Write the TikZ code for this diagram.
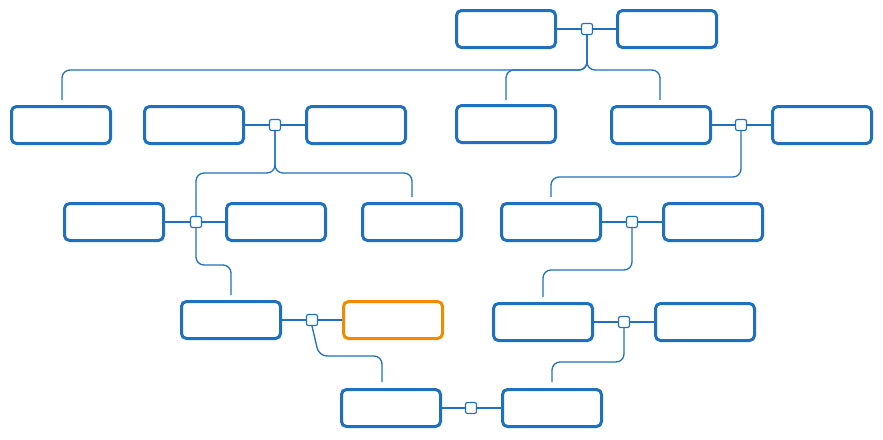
\documentclass[tikz,border=0pt]{standalone}
\begin{document}
\definecolor{bl}{HTML}{1F70BF}
\definecolor{og}{HTML}{F08C00}
\begin{tikzpicture}[x=1pt,y=-1pt,
 box/.style={draw=bl,line width=3pt,rounded corners=5pt,minimum width=99pt,minimum height=37pt,inner sep=0pt,fill=white},
 sq/.style={draw=bl,line width=1.2pt,rounded corners=2pt,minimum size=11pt,inner sep=0pt,fill=white},
 link/.style={draw=bl,line width=1.3pt,rounded corners=8pt},
 tie/.style={draw=bl,line width=1.3pt}]
\useasboundingbox (0,0) rectangle (883,439);
% nodes
\node[box] (a1) at (506,29) {}; \node[box] (a2) at (667,29) {};
\node[box] (b1) at (61,125) {}; \node[box] (b2) at (194,125) {}; \node[box] (b3) at (356,125) {};
\node[box] (b4) at (506,124) {}; \node[box] (b5) at (661,125) {}; \node[box] (b6) at (822,125) {};
\node[box] (c1) at (114,222) {}; \node[box] (c2) at (276,222) {}; \node[box] (c3) at (412,222) {};
\node[box] (c4) at (551,222) {}; \node[box] (c5) at (713,222) {};
\node[box] (d1) at (231,320) {}; \node[box,draw=og] (d2) at (393,320) {};
\node[box] (d3) at (543,322) {}; \node[box] (d4) at (705,322) {};
\node[box] (e1) at (391,408) {}; \node[box] (e2) at (552,408) {};
% ties
\draw[tie] (a1) -- (a2); \draw[tie] (b2) -- (b3); \draw[tie] (b5) -- (b6);
\draw[tie] (c1) -- (c2); \draw[tie] (c4) -- (c5); \draw[tie] (d1) -- (d2);
\draw[tie] (d3) -- (d4); \draw[tie] (e1) -- (e2);
\node[sq] (s1) at (587,29) {}; \node[sq] (s2) at (275,125) {}; \node[sq] (s3) at (741,125) {};
\node[sq] (s4) at (196,222) {}; \node[sq] (s5) at (632,222) {};
\node[sq] (s6) at (312,320) {}; \node[sq] (s7) at (624,322) {}; \node[sq] (s8) at (471,408) {};
% descent lines
\coordinate (t1) at (62,100); \coordinate (t2) at (506,100); \coordinate (t3) at (660,100);
\draw[link] (s1.south) -- (587,70) -| (t1);
\draw[link] (s1.south) -- (587,70) -| (t2);
\draw[link] (s1.south) -- (587,70) -| (t3);
\coordinate (t4) at (412,197);
\draw[link] (s2.south) -- (275,173) -| (s4.north);
\draw[link] (s2.south) -- (275,173) -| (t4);
\coordinate (t5) at (551,197);
\draw[link] (s3.south) -- (741,177) -| (t5);
\coordinate (t6) at (231,295);
\draw[link] (s4.south) -- (196,265) -| (t6);
\coordinate (t7) at (543,297);
\draw[link] (s5.south) -- (632,270) -| (t7);
\coordinate (t8) at (382,382);
\draw[link] (s6.south) -- (319,356) -| (t8);
\coordinate (t9) at (552,382);
\draw[link] (s7.south) -- (624,362) -| (t9);
\end{tikzpicture}
\end{document}
